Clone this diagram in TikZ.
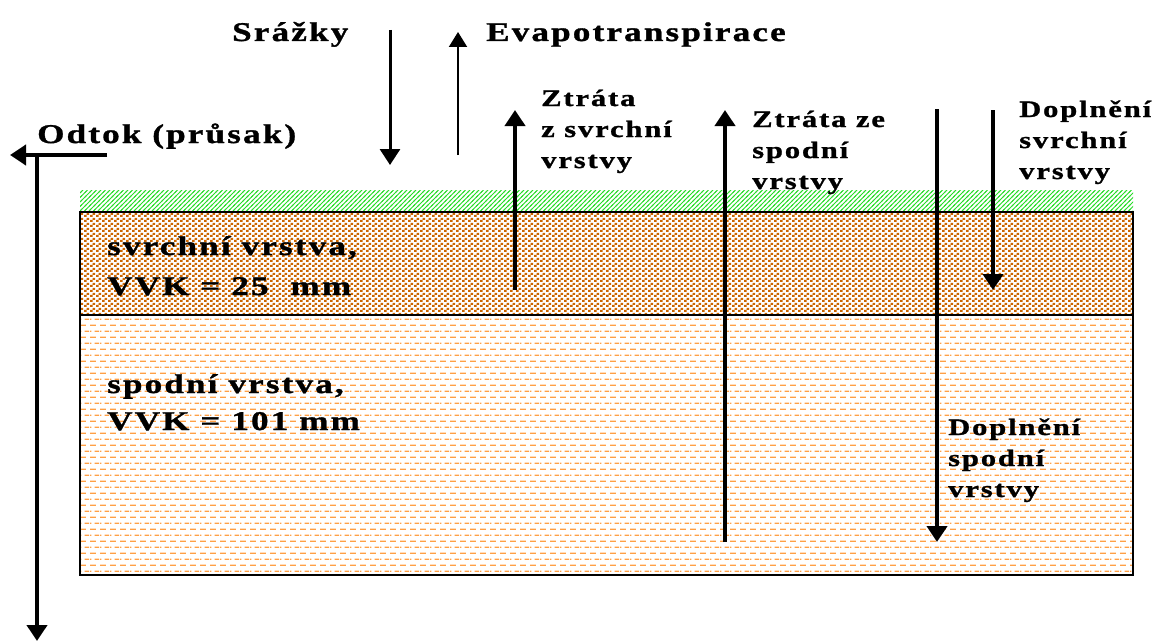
\documentclass[tikz,border=0pt]{standalone}
\usepackage{fontspec}
\newfontfamily\lbl{Liberation Serif Bold}[FakeStretch=1.3,LetterSpace=8,FakeBold=1.2]
\usetikzlibrary{arrows.meta,patterns}
\definecolor{grass}{RGB}{40,220,40}
\definecolor{soil}{RGB}{204,102,0}
\definecolor{clay}{RGB}{255,160,70}
\pgfdeclarepatternformonly{grasslines}{\pgfpoint{-1pt}{-1pt}}{\pgfpoint{5.5pt}{5.5pt}}{\pgfpoint{4.5pt}{4.5pt}}{%
  \pgfsetlinewidth{0.9pt}%
  \pgfpathmoveto{\pgfpoint{-1pt}{-1pt}}\pgfpathlineto{\pgfpoint{5.5pt}{5.5pt}}%
  \pgfusepath{stroke}}
\pgfdeclarepatternformonly{soildots}{\pgfpointorigin}{\pgfpoint{6pt}{5pt}}{\pgfpoint{6pt}{5pt}}{%
  \pgfpathrectangle{\pgfpoint{0pt}{0pt}}{\pgfpoint{3.2pt}{2.4pt}}%
  \pgfpathrectangle{\pgfpoint{3pt}{2.5pt}}{\pgfpoint{3pt}{2.4pt}}%
  \pgfusepath{fill}}
\pgfdeclarepatternformonly{claydashes}{\pgfpointorigin}{\pgfpoint{10pt}{12.4pt}}{\pgfpoint{10pt}{12.4pt}}{%
  \pgfsetlinewidth{1.3pt}%
  \pgfpathmoveto{\pgfpoint{0pt}{3pt}}\pgfpathlineto{\pgfpoint{6.5pt}{3pt}}%
  \pgfpathmoveto{\pgfpoint{5pt}{9.2pt}}\pgfpathlineto{\pgfpoint{10pt}{9.2pt}}%
  \pgfpathmoveto{\pgfpoint{0pt}{9.2pt}}\pgfpathlineto{\pgfpoint{1.5pt}{9.2pt}}%
  \pgfusepath{stroke}}
\begin{document}
\begin{tikzpicture}[x=1pt,y=-1pt,>={Triangle[width=20pt,length=16pt]},every node/.style={font=\lbl\fontsize{23.5}{31}\selectfont,inner sep=0pt,align=left,anchor=base west},big/.style={font=\lbl\fontsize{27}{40}\selectfont},flow/.style={->,line width=4pt}]
\useasboundingbox (0,0) rectangle (1154,642);
\fill[white] (0,0) rectangle (1154,642);
\fill[pattern=grasslines,pattern color=grass] (80,190) rectangle (1133,212);
\fill[pattern=soildots,pattern color=soil] (80,212) rectangle (1133,315);
\fill[pattern=claydashes,pattern color=clay] (80,315) rectangle (1133,575);
\draw[line width=1.5pt] (80,212) rectangle (1133,575);
\draw[line width=1.5pt] (80,315) -- (1133,315);
\node[big] (sr) at (232,41) {Srážky};
\node[big] (ev) at (486,41) {Evapotranspirace};
\node[big] (od) at (37,143) {Odtok (průsak)};
\node (zs) at (541,168) {Ztráta\\z svrchní\\vrstvy};
\node (zp) at (752,189) {Ztráta ze\\spodní\\vrstvy};
\node (ds) at (1019,179) {Doplnění\\svrchní\\vrstvy};
\node (dp) at (948,497) {Doplnění\\spodní\\vrstvy};
\node[big] (hv) at (107,295) {svrchní vrstva,\\VVK = 25\ \ mm};
\node[big,font=\lbl\fontsize{27}{37}\selectfont] (sv) at (107,430) {spodní vrstva,\\VVK = 101 mm};
\draw[flow,line width=3pt] (390,30) -- (390,165);
\draw[->,line width=2pt,>={Triangle[width=18pt,length=15pt]}] (458,155) -- (458,32);
\draw[flow] (515,290) -- (515,110);
\draw[flow] (725,542) -- (725,110);
\draw[flow] (937,109) -- (937,542);
\draw[flow] (993,110) -- (993,290);
\draw[flow] (107,155) -- (10,155);
\draw[flow] (37,155) -- (37,641);
\end{tikzpicture}
\end{document}
